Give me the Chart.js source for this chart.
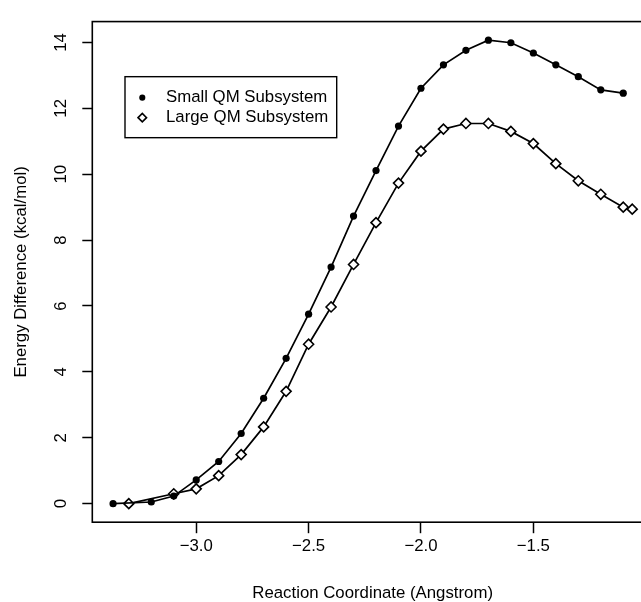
<!DOCTYPE html>
<html>
<head>
<meta charset="utf-8">
<title>Energy Difference vs Reaction Coordinate</title>
<script src="https://cdn.jsdelivr.net/npm/chart.js@4.4.1/dist/chart.umd.min.js"></script>
<style>
  html, body { margin: 0; padding: 0; background: #fff; overflow: hidden; }
  #wrap { width: 660px; height: 602px; }
</style>
</head>
<body>
<div id="wrap"><canvas id="energyChart" width="660" height="602"></canvas></div>
<script>
// reaction coordinate (Angstrom) and energy difference (kcal/mol) for each QM subsystem
var smallX = [-3.37, -3.2, -3.1, -3.0, -2.9, -2.8, -2.7, -2.6, -2.5, -2.4, -2.3, -2.2,
              -2.1, -2.0, -1.9, -1.8, -1.7, -1.6, -1.5, -1.4, -1.3, -1.2, -1.1];
var smallY = [0.00, 0.05, 0.23, 0.72, 1.28, 2.13, 3.20, 4.41, 5.75, 7.18, 8.73, 10.11,
              11.46, 12.61, 13.32, 13.76, 14.07, 13.99, 13.68, 13.32, 12.96, 12.56, 12.46];

var largeX = [-3.3, -3.1, -3.0, -2.9, -2.8, -2.7, -2.6, -2.5, -2.4, -2.3, -2.2, -2.1,
              -2.0, -1.9, -1.8, -1.7, -1.6, -1.5, -1.4, -1.3, -1.2, -1.1, -1.06];
var largeY = [0.00, 0.30, 0.45, 0.85, 1.49, 2.33, 3.41, 4.84, 5.97, 7.26, 8.53, 9.73,
              10.70, 11.37, 11.54, 11.54, 11.30, 10.93, 10.32, 9.80, 9.39, 9.00, 8.94];

var seriesNames = ['Small QM Subsystem', 'Large QM Subsystem'];

var xTickValues = [-3.0, -2.5, -2.0, -1.5];
var xTickLabels = ['\u22123.0', '\u22122.5', '\u22122.0', '\u22121.5'];
var yTickValues = [0, 2, 4, 6, 8, 10, 12, 14];
var yTickLabels = ['0', '2', '4', '6', '8', '10', '12', '14'];

var FONT = { family: '"Liberation Sans", Arial, Helvetica, sans-serif', size: 16.8 };

function toPoints(xs, ys) {
    return xs.map(function (x, i) { return { x: x, y: ys[i] }; });
}

// box round the plotting region
var frame = {
    id: 'frame',
    afterDatasetsDraw: function (chart) {
        var a = chart.chartArea, ctx = chart.ctx;
        ctx.save();
        ctx.strokeStyle = '#000';
        ctx.lineWidth = 1.6;
        ctx.strokeRect(a.left, a.top, a.right - a.left, a.bottom - a.top);
        ctx.restore();
    }
};

// legend drawn inside the plot, with a border
var insetLegend = {
    id: 'insetLegend',
    afterDraw: function (chart, args, opts) {
        var ctx = chart.ctx, a = chart.chartArea;
        var x = a.left + opts.offsetX, y = a.top + opts.offsetY;
        ctx.save();
        ctx.fillStyle = '#fff';
        ctx.fillRect(x, y, opts.width, opts.height);
        ctx.strokeStyle = '#000';
        ctx.lineWidth = 1.4;
        ctx.strokeRect(x, y, opts.width, opts.height);
        ctx.font = FONT.size + 'px ' + FONT.family;
        ctx.textBaseline = 'middle';
        ctx.textAlign = 'left';
        chart.data.datasets.forEach(function (ds, i) {
            var cy = y + opts.firstRow + i * opts.rowGap;
            var cx = x + opts.markerX;
            var r = ds.pointRadius * 0.85;
            ctx.beginPath();
            if (ds.pointStyle === 'rectRot') {
                ctx.moveTo(cx - r, cy);
                ctx.lineTo(cx, cy - r);
                ctx.lineTo(cx + r, cy);
                ctx.lineTo(cx, cy + r);
                ctx.closePath();
            } else {
                ctx.arc(cx, cy, r, 0, Math.PI * 2);
            }
            ctx.fillStyle = ds.pointBackgroundColor;
            ctx.fill();
            if (ds.pointBorderWidth > 0) {
                ctx.strokeStyle = ds.pointBorderColor;
                ctx.lineWidth = ds.pointBorderWidth;
                ctx.stroke();
            }
            ctx.fillStyle = '#000';
            ctx.fillText(ds.label, x + opts.textX, cy);
        });
        ctx.restore();
    }
};

new Chart(document.getElementById('energyChart'), {
    type: 'line',
    plugins: [frame, insetLegend],
    data: {
        datasets: [{
            label: seriesNames[0],
            data: toPoints(smallX, smallY),
            borderColor: '#000',
            borderWidth: 1.7,
            tension: 0,
            pointStyle: 'circle',
            pointRadius: 3.6,
            pointBackgroundColor: '#000',
            pointBorderColor: '#000',
            pointBorderWidth: 0
        }, {
            label: seriesNames[1],
            data: toPoints(largeX, largeY),
            borderColor: '#000',
            borderWidth: 1.7,
            tension: 0,
            pointStyle: 'rectRot',
            pointRadius: 5,
            pointBackgroundColor: '#fff',
            pointBorderColor: '#000',
            pointBorderWidth: 1.6
        }]
    },
    options: {
        responsive: false,
        animation: false,
        devicePixelRatio: 1,
        layout: { padding: { top: 13.2, right: 7, bottom: 0, left: 0 } },
        plugins: {
            legend: { display: false },
            tooltip: { enabled: false },
            insetLegend: {
                offsetX: 32.7, offsetY: 55.1, width: 211.7, height: 61,
                markerX: 17.3, textX: 41, firstRow: 21, rowGap: 20
            }
        },
        scales: {
            x: {
                type: 'linear',
                min: -3.4624,
                max: -0.9676,
                afterBuildTicks: function (scale) {
                    scale.ticks = xTickValues.map(function (v) { return { value: v }; });
                },
                afterFit: function (scale) { scale.height = 79.8; },
                grid: {
                    drawOnChartArea: false, drawTicks: true, tickLength: 11,
                    tickColor: '#000', tickWidth: 1.5
                },
                border: { display: false },
                ticks: {
                    color: '#000', font: FONT, padding: 3, autoSkip: false,
                    maxRotation: 0,
                    callback: function (v) {
                        var i = xTickValues.indexOf(v);
                        return i < 0 ? '' : xTickLabels[i];
                    }
                },
                title: {
                    display: true,
                    text: 'Reaction Coordinate (Angstrom)',
                    color: '#000',
                    font: { family: FONT.family, size: FONT.size, lineHeight: 1 },
                    padding: { top: 0, bottom: 0 }
                }
            },
            y: {
                type: 'linear',
                min: -0.563,
                max: 14.633,
                afterBuildTicks: function (scale) {
                    scale.ticks = yTickValues.map(function (v) { return { value: v }; });
                },
                afterFit: function (scale) { scale.width = 92.3; },
                grid: {
                    drawOnChartArea: false, drawTicks: true, tickLength: 10,
                    tickColor: '#000', tickWidth: 1.5
                },
                border: { display: false },
                ticks: {
                    color: '#000', font: FONT, padding: 11.5, autoSkip: false,
                    minRotation: 90, maxRotation: 90, crossAlign: 'center',
                    callback: function (v) {
                        var i = yTickValues.indexOf(v);
                        return i < 0 ? '' : yTickLabels[i];
                    }
                },
                title: {
                    display: true,
                    text: 'Energy Difference (kcal/mol)',
                    color: '#000',
                    font: { family: FONT.family, size: FONT.size, lineHeight: 1.2 },
                    padding: { top: 11, bottom: 0 }
                }
            }
        }
    }
});
</script>
</body>
</html>
